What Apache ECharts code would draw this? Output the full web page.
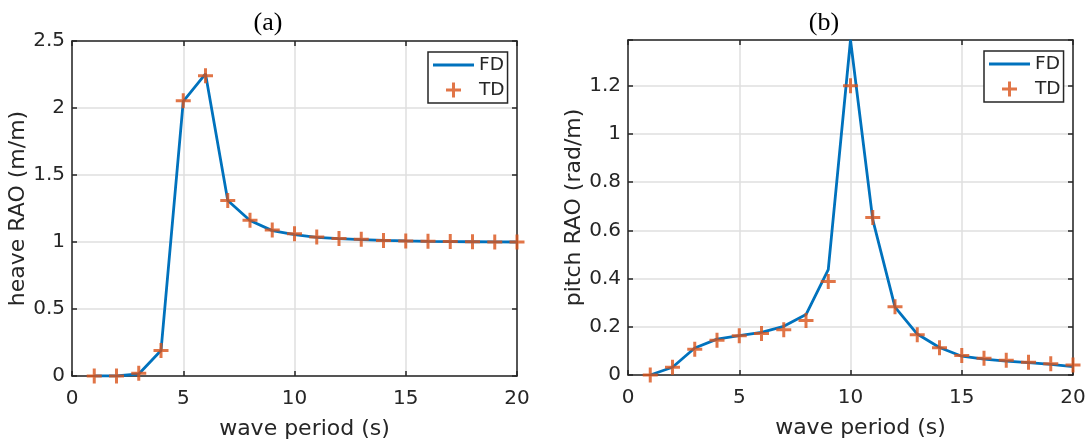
<!DOCTYPE html>
<html>
<head>
<meta charset="utf-8">
<title>Heave and pitch RAO</title>
<script src="https://cdn.jsdelivr.net/npm/echarts@6/dist/echarts.min.js"></script>
<style>
  html, body { margin: 0; padding: 0; background: #fff; }
  #chart { width: 1092px; height: 445px; }
</style>
</head>
<body>
<div id="chart"></div>
<script>
// Wave periods (s)
const periods = [1, 2, 3, 4, 5, 6, 7, 8, 9, 10, 11, 12, 13, 14, 15, 16, 17, 18, 19, 20];

// Heave RAO (m/m): frequency-domain and time-domain results
const heaveFD = [0, 0, 0.015, 0.19, 2.05, 2.255, 1.31, 1.16, 1.085, 1.055, 1.035, 1.025, 1.018, 1.012, 1.008, 1.005, 1.003, 1.002, 1.001, 1.0];
const heaveTD = [0, 0, 0.02, 0.19, 2.055, 2.24, 1.31, 1.163, 1.09, 1.062, 1.037, 1.027, 1.02, 1.012, 1.007, 1.005, 1.003, 1.002, 1.0, 1.0];

// Pitch RAO (rad/m): frequency-domain and time-domain results
const pitchFD = [0, 0.032, 0.112, 0.149, 0.163, 0.177, 0.202, 0.251, 0.437, 1.39, 0.645, 0.282, 0.17, 0.114, 0.078, 0.066, 0.058, 0.051, 0.044, 0.035];
const pitchTD = [0, 0.032, 0.107, 0.144, 0.163, 0.172, 0.188, 0.226, 0.388, 1.2, 0.653, 0.283, 0.167, 0.113, 0.081, 0.07, 0.061, 0.053, 0.047, 0.042];

// Axis ranges and tick steps
const xRange = [0, 20], xStep = 5;
const heaveRange = [0, 2.5], heaveStep = 0.5;
const pitchRange = [0, 1.39], pitchStep = 0.2;

const AX = '#262626';
const GRIDLINE = '#dfdfdf';
const FONT = 'DejaVu Sans';
const BLUE = '#0072BD';
const ORANGE = '#D95319';
const PLUS = 'path://M-1.5,-7.5L1.5,-7.5L1.5,-1.5L7.5,-1.5L7.5,1.5L1.5,1.5L1.5,7.5L-1.5,7.5L-1.5,1.5L-7.5,1.5L-7.5,-1.5L-1.5,-1.5Z';
const LINE_ICON = 'path://M0,0L41,0L41,2.8L0,2.8Z';

const pairs = (ys) => periods.map((t, i) => [t, ys[i]]);

const axisLine = { show: true, onZero: false, lineStyle: { color: AX, width: 1.5 } };
const axisTick = { show: true, inside: true, length: 5, lineStyle: { color: AX, width: 1.5 } };
const splitLine = { show: true, lineStyle: { color: GRIDLINE, width: 1.5 } };
const tickText = { color: AX, fontSize: 20, fontFamily: FONT };
const nameText = { color: AX, fontSize: 22, fontFamily: FONT };

// labels only at whole multiples of the tick step
const onStep = (step) => (v) => {
  const k = v / step;
  return Math.abs(k - Math.round(k)) < 1e-6 ? String(Math.round(k * step * 10) / 10) : '';
};

function xAxesFor(g) {
  return [
    {
      gridIndex: g, type: 'value', position: 'bottom',
      min: xRange[0], max: xRange[1], interval: xStep,
      axisLine, axisTick, splitLine,
      axisLabel: Object.assign({ margin: 13 }, tickText),
      name: 'wave period (s)', nameLocation: 'middle', nameGap: 42,
      nameTextStyle: Object.assign({ padding: [0, 0, 0, 20] }, nameText)
    },
    {
      gridIndex: g, type: 'value', position: 'top',
      min: xRange[0], max: xRange[1], interval: xStep,
      axisLine, axisTick, splitLine: { show: false }, axisLabel: { show: false }
    }
  ];
}

function yAxesFor(g, range, step, name, gap) {
  return [
    {
      gridIndex: g, type: 'value', position: 'left',
      min: range[0], max: range[1], interval: step,
      axisLine, axisTick, splitLine,
      axisLabel: Object.assign({ margin: 7, formatter: onStep(step) }, tickText),
      name, nameLocation: 'middle', nameGap: gap, nameTextStyle: nameText
    },
    {
      gridIndex: g, type: 'value', position: 'right',
      min: range[0], max: range[1], interval: step,
      axisLine, axisTick, splitLine: { show: false }, axisLabel: { show: false }
    }
  ];
}

function seriesFor(g, fd, td) {
  return [
    {
      type: 'line', name: 'FD', xAxisIndex: 2 * g, yAxisIndex: 2 * g,
      data: pairs(fd), symbol: 'none', z: 3,
      lineStyle: { color: BLUE, width: 2.8 }, itemStyle: { color: BLUE }
    },
    {
      type: 'scatter', name: 'TD', xAxisIndex: 2 * g, yAxisIndex: 2 * g,
      data: pairs(td), symbol: PLUS, symbolSize: 15, z: 4,
      itemStyle: { color: ORANGE }
    }
  ];
}

function legendAt(left, top) {
  return {
    orient: 'vertical', left, top, selectedMode: false,
    data: [{ name: 'FD', icon: LINE_ICON }, { name: 'TD', icon: PLUS }],
    itemWidth: 41, itemHeight: 15, itemGap: 5,
    padding: [3, 3, 3, 5],
    borderColor: AX, borderWidth: 1.5, backgroundColor: '#fff',
    textStyle: { color: AX, fontSize: 18.5, fontFamily: FONT, lineHeight: 20 }
  };
}

const chart = echarts.init(document.getElementById('chart'), null, { renderer: 'canvas' });
chart.setOption({
  animation: false,
  backgroundColor: '#fff',
  grid: [
    { left: 72, top: 41, width: 445, height: 335, containLabel: false },
    { left: 628, top: 40, width: 445, height: 335, containLabel: false }
  ],
  xAxis: [...xAxesFor(0), ...xAxesFor(1)],
  yAxis: [
    ...yAxesFor(0, heaveRange, heaveStep, 'heave RAO (m/m)', 40),
    ...yAxesFor(1, pitchRange, pitchStep, 'pitch RAO (rad/m)', 38)
  ],
  legend: [legendAt(428, 52), legendAt(984, 51)],
  series: [...seriesFor(0, heaveFD, heaveTD), ...seriesFor(1, pitchFD, pitchTD)],
  graphic: [
    { type: 'text', x: 268, y: 23, style: { text: '(a)', fill: '#000', font: '26px "Liberation Serif"', textAlign: 'center', textVerticalAlign: 'middle' } },
    { type: 'text', x: 824, y: 23, style: { text: '(b)', fill: '#000', font: '26px "Liberation Serif"', textAlign: 'center', textVerticalAlign: 'middle' } }
  ]
});
</script>
</body>
</html>
